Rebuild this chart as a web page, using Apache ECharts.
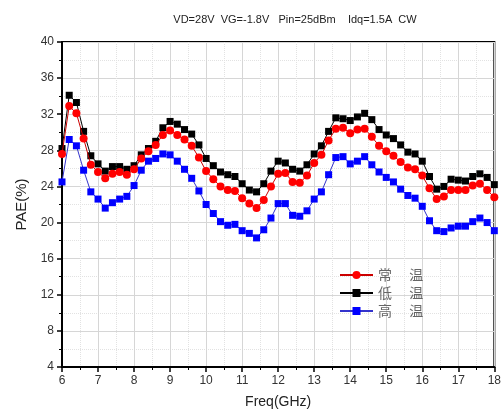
<!DOCTYPE html>
<html><head><meta charset="utf-8">
<script src="https://cdn.jsdelivr.net/npm/echarts@6/dist/echarts.min.js"></script>
<style>html,body{margin:0;padding:0;background:#fff}#c{width:504px;height:417px}</style>
</head><body><div id="c"></div>
<script>
var freq = [6.0,6.2,6.4,6.6,6.8,7.0,7.2,7.4,7.6,7.8,8.0,8.2,8.4,8.6,8.8,9.0,9.2,9.4,9.6,9.8,10.0,10.2,10.4,10.6,10.8,11.0,11.2,11.4,11.6,11.8,12.0,12.2,12.4,12.6,12.8,13.0,13.2,13.4,13.6,13.8,14.0,14.2,14.4,14.6,14.8,15.0,15.2,15.4,15.6,15.8,16.0,16.2,16.4,16.6,16.8,17.0,17.2,17.4,17.6,17.8,18.0];
var roomTemp = [27.6,32.9,32.1,29.3,26.4,25.6,24.9,25.4,25.6,25.3,25.9,27.1,27.9,28.6,29.7,30.2,29.7,29.2,28.5,27.2,25.7,24.8,24.0,23.6,23.5,22.7,22.1,21.6,22.5,24.0,25.4,25.5,24.5,24.4,25.2,26.6,27.5,29.1,30.4,30.5,29.9,30.3,30.4,29.5,28.5,27.9,27.4,26.7,26.1,25.9,25.2,23.8,22.6,22.9,23.6,23.6,23.6,24.1,24.3,23.6,22.8];
var lowTemp = [28.2,34.1,33.3,30.1,27.4,26.5,25.7,26.2,26.2,25.9,26.3,27.5,28.2,29.0,30.5,31.2,30.9,30.3,29.8,28.6,27.1,26.3,25.6,25.3,25.1,24.3,23.6,23.4,24.3,25.7,26.8,26.6,25.9,25.7,26.4,27.6,28.5,30.1,31.6,31.5,31.3,31.7,32.1,31.4,30.3,29.7,29.3,28.6,27.8,27.6,26.8,25.1,23.7,24.0,24.8,24.7,24.6,25.1,25.4,25.0,24.2];
var highTemp = [24.5,29.2,28.5,25.8,23.4,22.6,21.6,22.2,22.6,22.9,24.1,25.8,26.8,27.1,27.6,27.5,26.8,25.9,24.9,23.5,22.0,21.0,20.1,19.7,19.8,19.1,18.8,18.3,19.2,20.5,22.1,22.1,20.8,20.7,21.3,22.6,23.4,25.3,27.2,27.3,26.5,26.8,27.3,26.4,25.6,25.0,24.5,23.7,23.0,22.7,21.8,20.2,19.1,19.0,19.4,19.6,19.6,20.1,20.5,20.0,19.1];
var seriesNames = ['常\u3000 温','低\u3000 温','高\u3000 温'];
var titleText = 'VD=28V  VG=-1.8V   Pin=25dBm    Idq=1.5A  CW';

function pairs(v){ return freq.map(function(f,i){ return [f, v[i]]; }); }

var chart = echarts.init(document.getElementById('c'), null, {renderer:'canvas'});
var axisCommon = {
  axisLine:{show:true, onZero:false, lineStyle:{color:'#000', width:2}},
  axisTick:{show:true, inside:false, length:5, lineStyle:{color:'#000', width:1.5}},
  minorTick:{show:true, splitNumber:2, length:3, lineStyle:{color:'#000', width:1}},
  splitLine:{show:true, lineStyle:{color:'#d6d6d6', width:1}},
  minorSplitLine:{show:true, lineStyle:{color:'#e2e2e2', width:1, type:'dotted'}},
  axisLabel:{color:'#333', fontSize:12, fontFamily:'Liberation Sans, Arial'}
};
chart.setOption({
  animation:false,
  backgroundColor:'#fff',
  title:{text:titleText, left:290, textAlign:'center', top:9,
    textStyle:{fontSize:11, fontWeight:'normal', color:'#222', fontFamily:'Liberation Sans, Arial'}},
  grid:{left:62, right:7, top:42, bottom:50, show:true, borderColor:'#000', borderWidth:2},
  legend:{orient:'vertical', left:334, top:262, itemWidth:33, itemHeight:10, itemGap:2,
    data:seriesNames,
    textStyle:{fontSize:14, color:'#666', fontFamily:'Noto Sans CJK SC', lineHeight:16}},
  xAxis:Object.assign({}, axisCommon, {type:'value', min:6, max:18, interval:1,
    name:'Freq(GHz)', nameLocation:'middle', nameGap:28,
    nameTextStyle:{fontSize:14, color:'#222', fontFamily:'Liberation Sans, Arial'}}),
  yAxis:Object.assign({}, axisCommon, {type:'value', min:4, max:40, interval:4,
    name:'PAE(%)', nameLocation:'middle', nameGap:30,
    nameTextStyle:{fontSize:15, color:'#222', fontFamily:'Liberation Sans, Arial'}}),
  series:[
    {name:seriesNames[0], type:'line', data:pairs(roomTemp), z:5, symbol:'circle', symbolSize:8,
      lineStyle:{color:'#cc0000', width:1}, itemStyle:{color:'#ff0000'}},
    {name:seriesNames[1], type:'line', data:pairs(lowTemp), z:4, symbol:'rect', symbolSize:7,
      lineStyle:{color:'#000', width:1}, itemStyle:{color:'#000'}},
    {name:seriesNames[2], type:'line', data:pairs(highTemp), z:3, symbol:'rect', symbolSize:7,
      lineStyle:{color:'#3333cc', width:1}, itemStyle:{color:'#0000ff'}}
  ]
});
</script></body></html>
